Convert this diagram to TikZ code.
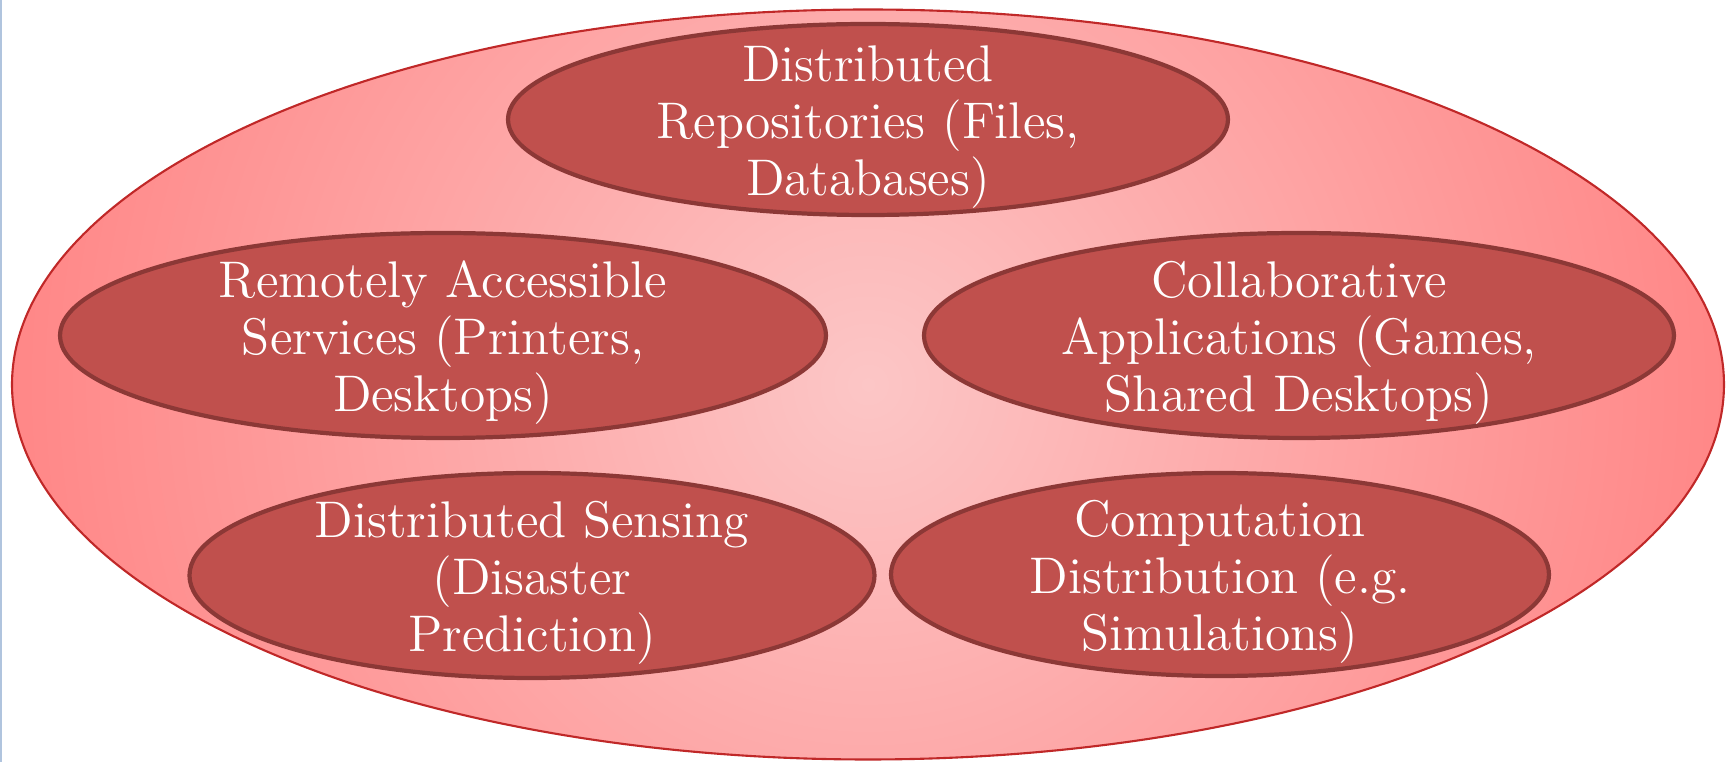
\documentclass[tikz,border=0pt]{standalone}
\usetikzlibrary{shapes.geometric}
\definecolor{outerpink}{RGB}{255,135,135}
\definecolor{innerpink}{RGB}{252,198,198}
\definecolor{rimred}{RGB}{192,40,40}
\definecolor{itemfill}{RGB}{192,80,77}
\definecolor{itemrim}{RGB}{140,56,54}
\definecolor{edgeblue}{RGB}{176,196,222}
\tikzset{
  envelope/.style={ellipse, draw=rimred, line width=0.6pt, inner sep=0pt,
    path picture={\shade[inner color=innerpink, outer color=outerpink]
      (path picture bounding box.center) circle (85.7mm);}},
  item/.style={ellipse, draw=itemrim, line width=1.2pt, fill=itemfill, inner sep=0pt},
  label text/.style={text=white, align=center, inner sep=0pt,
    font=\fontsize{14.66}{16.2}\selectfont},
}
\begin{document}
\begin{tikzpicture}[x=0.1mm, y=-0.1mm]
  \useasboundingbox (0,0) rectangle (1726,762);
  % thin rule along the left edge
  \fill[edgeblue] (0,0) rectangle (2,762);
  % enclosing ellipse with radial shading
  \node[envelope, minimum width=171.2mm, minimum height=75.0mm] (env) at (868,384.5) {};
  % the five kinds of distributed resources
  \node[item, minimum width=72.0mm, minimum height=19.1mm] (repo) at (868,119.5) {};
  \node[item, minimum width=76.6mm, minimum height=20.5mm] (remote) at (443,335.5) {};
  \node[item, minimum width=75.0mm, minimum height=20.5mm] (collab) at (1299,335.5) {};
  \node[item, minimum width=68.5mm, minimum height=20.5mm] (sensing) at (532,575.5) {};
  \node[item, minimum width=65.8mm, minimum height=20.3mm] (compute) at (1220,574.5) {};
  % their captions, set slightly below each centre
  \node[label text] (repo-t) at ([yshift=-0.8mm]repo.center)
    {Distributed\\Repositories (Files,\\Databases)};
  \node[label text] (remote-t) at ([yshift=-0.75mm]remote.center)
    {Remotely Accessible\\Services (Printers,\\Desktops)};
  \node[label text] (collab-t) at ([yshift=-0.75mm]collab.center)
    {Collaborative\\Applications (Games,\\Shared Desktops)};
  \node[label text] (sensing-t) at ([yshift=-0.75mm]sensing.center)
    {Distributed Sensing\\(Disaster\\Prediction)};
  \node[label text] (compute-t) at ([yshift=-0.75mm]compute.center)
    {Computation\\Distribution (e.g.\\Simulations)};
\end{tikzpicture}
\end{document}
